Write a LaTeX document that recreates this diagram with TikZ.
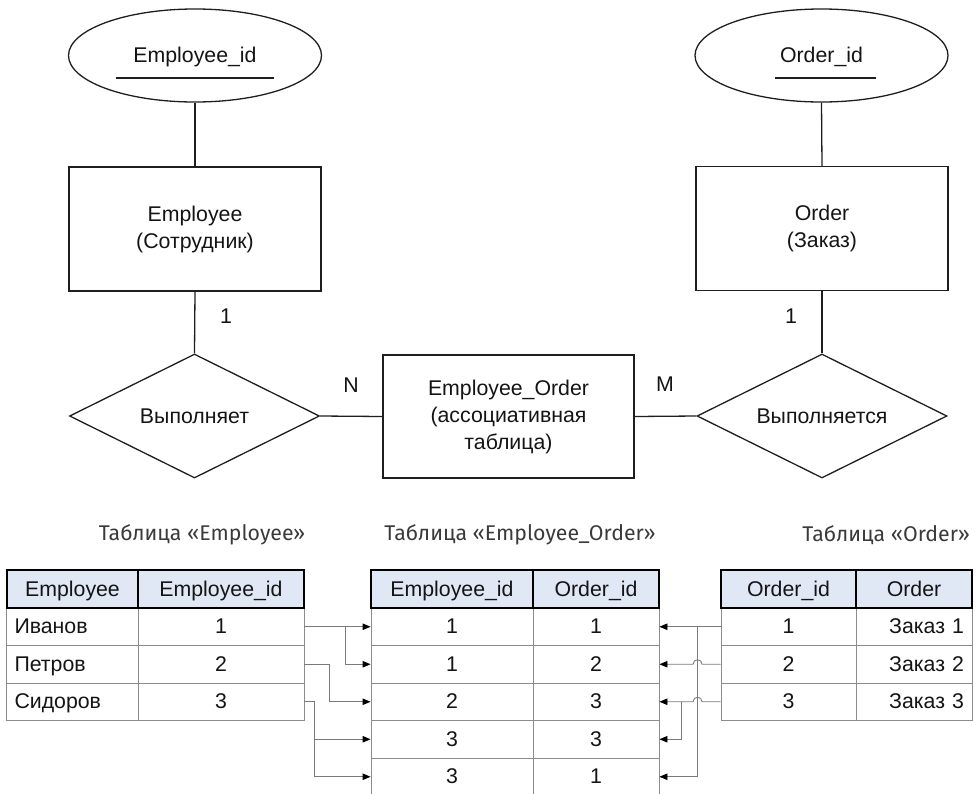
\documentclass[tikz,border=0pt]{standalone}
\usepackage{fontspec}
\setmainfont{Liberation Sans}
\newfontfamily\titlefont{Fira Sans}
\usetikzlibrary{shapes.geometric,arrows.meta,calc}
\definecolor{hdr}{HTML}{E0E8F5}
\definecolor{ln}{HTML}{1E1E1E}
\definecolor{gridc}{HTML}{8C8C8C}
\definecolor{cn}{HTML}{7A7A7A}
\definecolor{ttlc}{HTML}{3A3A3A}
\begin{document}
\begin{tikzpicture}[x=1pt,y=-1pt,
  every node/.style={font=\fontsize{21.3}{27}\selectfont, text=black!92},
  er/.style={draw=ln, line width=1.3pt},
  ent/.style={er, rectangle, minimum width=252pt, minimum height=124pt, align=center, inner sep=0},
  attr/.style={er, ellipse, minimum width=253pt, minimum height=93pt, inner sep=0, text height=19pt, text depth=4.6pt},
  rel/.style={er, diamond, minimum width=250pt, minimum height=124pt, inner sep=0},
  erline/.style={draw=ln, line width=1.3pt},
  card/.style={inner sep=0},
  ttl/.style={font=\titlefont\fontsize{21.3}{26}\selectfont, text=ttlc, inner sep=0},
  cell/.style={draw=gridc, line width=0.9pt, rectangle, inner sep=0, minimum height=37.5pt, text height=17pt, text depth=3pt},
  lcell/.style={cell, text width=116pt, inner xsep=8pt, align=left},
  rcell/.style={cell, text width=100pt, inner xsep=8pt, align=right},
  hcell/.style={draw=black, line width=2.6pt, fill=hdr, rectangle, inner sep=0, minimum height=38pt, text height=17pt, text depth=3pt},
  conn/.style={draw=cn, line width=0.9pt},
  arr/.style={conn, -{Triangle[length=8pt,width=6.5pt,color=black]}},
]
\useasboundingbox (0,0) rectangle (977,793);

% ---------- ER diagram ----------
\node[attr] (ea) at (195,55.5) {Employee\_id};
\node[attr] (oa) at (821.5,55.5) {Order\_id};
\draw[erline] ($(ea.center)+(-79,22.5)$) -- ($(ea.center)+(79,22.5)$);
\draw[erline] ($(oa.center)+(-46.5,22.5)$) -- ($(oa.center)+(54.5,22.5)$);

\node[ent] (emp) at (195,229) {Employee\\(Сотрудник)};
\node[ent] (ord) at (822,228.5) {Order\\(Заказ)};

\node[rel] (d1) at (194.5,416) {\makebox[0pt]{Выполняет}};
\node[rel] (d2) at (822,416) {\makebox[0pt]{Выполняется}};

\node[ent, minimum width=251pt, minimum height=123pt] (eo) at (508.5,416.5) {Employee\_Order\\(ассоциативная\\таблица)};

\draw[erline] (ea.south) -- (emp.north);
\draw[erline] (oa.south) -- (ord.north);
\draw[erline] (emp.south) -- (d1.north);
\draw[erline] (ord.south) -- (d2.north);
\draw[erline] (d1.east) -- (eo.west);
\draw[erline] (eo.east) -- (d2.west);

\node[card] (c1) at (226,316) {1};
\node[card] (c2) at (791,316) {1};
\node[card] (cn) at (351,385) {N};
\node[card] (cm) at (665,384) {M};

% ---------- titles ----------
\node[ttl] (t1) at (202,535) {Таблица «Employee»};
\node[ttl] (t2) at (520,535) {Таблица «Employee\_Order»};
\node[ttl, anchor=east] (t3) at (970,535) {Таблица «Order»};

% ---------- table Employee ----------
\node[lcell] (n1) at (72.5,626.75) {Иванов};
\node[lcell] (n2) at (72.5,664.25) {Петров};
\node[lcell] (n3) at (72.5,701.75) {Сидоров};
\node[cell, minimum width=166pt] (e1) at (221,626.75) {1};
\node[cell, minimum width=166pt] (e2) at (221,664.25) {2};
\node[cell, minimum width=166pt] (e3) at (221,701.75) {3};
\node[hcell, minimum width=131pt] (eh1) at (72.5,589) {Employee};
\node[hcell, minimum width=166pt] (eh2) at (221,589) {Employee\_id};

% ---------- table Employee_Order ----------
\node[cell, minimum width=162pt] (eo1) at (452,626.75) {1};
\node[cell, minimum width=162pt] (eo2) at (452,664.25) {1};
\node[cell, minimum width=162pt] (eo3) at (452,701.75) {2};
\node[cell, minimum width=162pt] (eo4) at (452,739.25) {3};
\node[cell, minimum width=162pt] (eo5) at (452,776.75) {3};
\node[cell, minimum width=126pt] (eb1) at (596,626.75) {1};
\node[cell, minimum width=126pt] (eb2) at (596,664.25) {2};
\node[cell, minimum width=126pt] (eb3) at (596,701.75) {3};
\node[cell, minimum width=126pt] (eb4) at (596,739.25) {3};
\node[cell, minimum width=126pt] (eb5) at (596,776.75) {1};
\node[hcell, minimum width=162pt] (eoh1) at (452,589) {Employee\_id};
\node[hcell, minimum width=126pt] (eoh2) at (596,589) {Order\_id};

% ---------- table Order ----------
\node[cell, minimum width=135pt] (o1) at (788.5,626.75) {1};
\node[cell, minimum width=135pt] (o2) at (788.5,664.25) {2};
\node[cell, minimum width=135pt] (o3) at (788.5,701.75) {3};
\node[rcell] (z1) at (914,626.75) {Заказ 1};
\node[rcell] (z2) at (914,664.25) {Заказ 2};
\node[rcell] (z3) at (914,701.75) {Заказ 3};
\node[hcell, minimum width=135pt] (oh1) at (788.5,589) {Order\_id};
\node[hcell, minimum width=116pt] (oh2) at (914,589) {Order};

% ---------- connectors left ----------
\draw[arr] (e1.east) -- (eo1.west);
\draw[arr] ($(e1.east)+(41,0)$) |- (eo2.west);
\draw[arr] (e2.east) -- ++(25,0) |- (eo3.west);
\draw[arr] (e3.east) -- ++(10,0) |- (eo4.west);
\draw[arr] ($(e3.east)+(10,0)$) |- (eo5.west);

% ---------- connectors right ----------
\draw[arr] (o1.west) -- (eb1.east);
\draw[arr] ($(o1.west)+(-23,0)$) |- (eb5.east);
\draw[arr] (o2.west) -- ($(o2.west)+(-18.5,0)$)
  .. controls ($(o2.west)+(-18.5,-6)$) and ($(o2.west)+(-27.5,-6)$) .. ($(o2.west)+(-27.5,0)$)
  -- (eb2.east);
\draw[arr] (o3.west) -- ($(o3.west)+(-18.5,0)$)
  .. controls ($(o3.west)+(-18.5,-6)$) and ($(o3.west)+(-27.5,-6)$) .. ($(o3.west)+(-27.5,0)$)
  -- (eb3.east);
\draw[arr] ($(o3.west)+(-39,0)$) |- (eb4.east);
\end{tikzpicture}
\end{document}
